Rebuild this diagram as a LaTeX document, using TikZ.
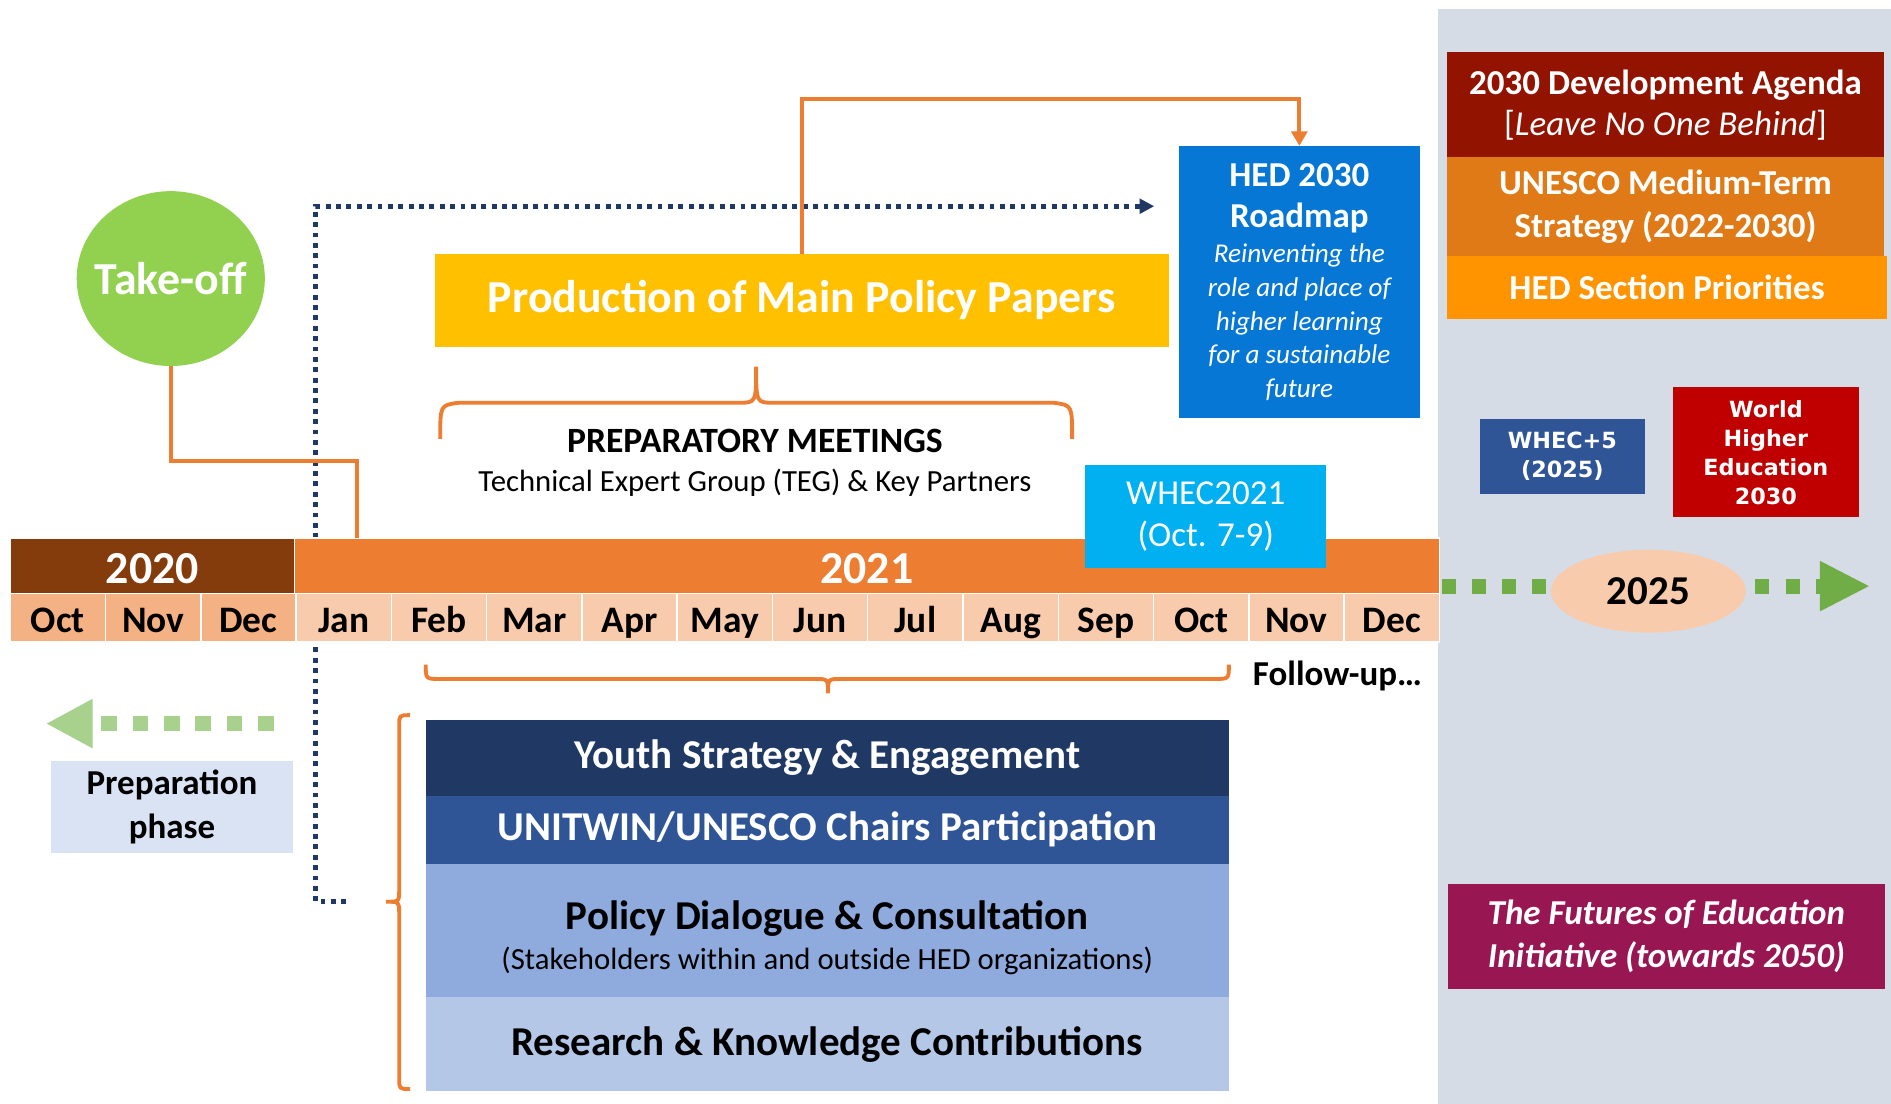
\documentclass[tikz,border=0pt]{standalone}
\usepackage{fontspec}
\setmainfont{Carlito}
\newfontfamily\heavyfont{DejaVu Sans}
\usepackage{tikz}
\usetikzlibrary{positioning}
\usetikzlibrary{shapes.geometric}
\usetikzlibrary{arrows.meta}

\definecolor{takegreen}{HTML}{92D050}
\definecolor{lineorange}{HTML}{ED7D31}
\definecolor{year20}{HTML}{843C0C}
\definecolor{year21}{HTML}{ED7D31}
\definecolor{month20}{HTML}{F4B183}
\definecolor{month21}{HTML}{F8CBAD}
\definecolor{papergold}{HTML}{FFC000}
\definecolor{roadblue}{HTML}{0677D5}
\definecolor{whecblue}{HTML}{00B0F0}
\definecolor{navy}{HTML}{203864}
\definecolor{chairblue}{HTML}{2F5597}
\definecolor{dialogblue}{HTML}{8FAADC}
\definecolor{researchblue}{HTML}{B4C7E7}
\definecolor{prepblue}{HTML}{DAE3F3}
\definecolor{panelgray}{HTML}{D6DCE5}
\definecolor{agendared}{HTML}{921300}
\definecolor{mtsorange}{HTML}{E07A16}
\definecolor{prioorange}{HTML}{FF9300}
\definecolor{whered}{HTML}{C00000}
\definecolor{futurepurple}{HTML}{981651}
\definecolor{lightgreen}{HTML}{A9D18E}
\definecolor{darkgreen}{HTML}{70AD47}

\newcommand{\fsz}[2]{\fontsize{#1}{#2}\selectfont}

\begin{document}
\begin{tikzpicture}[x=1pt, y=-1pt,
    box/.style={rectangle, inner sep=0pt, outer sep=0pt, anchor=north west, align=flush center},
    month/.style={box, draw=white, line width=1.2pt, minimum width=79, minimum height=40, text height=24pt, text depth=0pt, font=\fsz{31}{36}\bfseries},
    year/.style={box, draw=white, line width=1.2pt, minimum height=46.3, text height=30pt, text depth=0pt, text=white, font=\fsz{38}{44}\bfseries},
    oline/.style={draw=lineorange, line width=3.2pt},
    navydot/.style={draw=navy, line width=4pt, dash pattern=on 4pt off 4.6pt},
    gdots/.style={line width=12.5pt, dash pattern=on 11.5pt off 13.3pt}]

    \fill[white] (0,0) rectangle (1568,915);
    \useasboundingbox (0,0) rectangle (1568,915);

    % Right panel
    \node at (1192.5,7.5) (panel) [box, fill=panelgray, minimum width=376, minimum height=908] {};

    % Nodes
    \node at (141.6,231) (takeoff) [ellipse, fill=takegreen, inner sep=0pt, minimum width=156, minimum height=145,
        label={[text=white, font=\fsz{38}{44}\bfseries]center:Take-off}] {};
    \node at (360.7,210.3) (papers) [box, fill=papergold, minimum width=608.3, minimum height=77.7, text=white, font=\fsz{38}{44}\bfseries] {Production of Main Policy Papers};
    \node at (977.4,121) (roadmap) [box, fill=roadblue, minimum width=200, minimum height=226, text width=200, text=white, font=\fsz{22.5}{28}\itshape]
        {{\fsz{29}{34}\bfseries\upshape HED 2030\\Roadmap\par}\vspace{1pt}Reinventing the\\role and place of\\higher learning\\for a sustainable\\future};
    \node at (626,366) (prepmeet) [font=\fsz{29.5}{35}\bfseries] {PREPARATORY MEETINGS};
    \node at (626,400.5) (teg) [font=\fsz{25.5}{30}] {Technical Expert Group (TEG) \& Key Partners};

    % Dotted line to the roadmap (behind the timeline)
    \coordinate (navystart) at (287,747.5);
    \coordinate (navytip) at (957,171);
    \draw[navydot, -{Triangle[length=12pt, width=12pt]}] (navystart) -| (261.5,171) -- (navytip);

    % Timeline
    \node at (8.5,446) (y2020) [year, fill=year20, minimum width=235.8] {2020};
    \node at (244.3,446) (y2021) [year, fill=year21, minimum width=949.1] {2021};
    \foreach \m [count=\i from 0] in {Oct,Nov,Dec,Jan,Feb,Mar,Apr,May,Jun,Jul,Aug,Sep,Oct,Nov,Dec} {
        \ifnum\i<3 \def\mfill{month20}\else\def\mfill{month21}\fi
        \node at ({8.5+79*\i},492.3) (m\i) [month, fill=\mfill] {\m};
    }
    \node at (900,385.6) (whec21) [box, fill=whecblue, minimum width=199.5, minimum height=85, text=white, font=\fsz{29}{35}] {WHEC2021\\(Oct. 7-9)};
    \node at (1109,560.9) (followup) [font=\fsz{29}{34}\bfseries] {Follow-up\ldots};

    % Activities
    \node at (353,597) (youth) [box, fill=navy, minimum width=666, minimum height=62.7, text=white, font=\fsz{34}{40}\bfseries] {Youth Strategy \& Engagement};
    \node at (353,659.7) (chairs) [box, fill=chairblue, minimum width=666, minimum height=56.3, text=white, font=\fsz{34}{40}\bfseries] {UNITWIN/UNESCO Chairs Participation};
    \node at (353,716) (dialog) [box, fill=dialogblue, minimum width=666, minimum height=110.5, text width=666, font=\fsz{25.5}{33}]
        {{\fsz{34}{38}\bfseries\rule{0pt}{37pt}Policy Dialogue \& Consultation\par}(Stakeholders within and outside HED organizations)};
    \node at (353,826.5) (research) [box, fill=researchblue, minimum width=666, minimum height=78.5, font=\fsz{34}{40}\bfseries] {Research \& Knowledge Contributions};
    \node at (42.3,631) (prep) [box, fill=prepblue, minimum width=200.7, minimum height=76, font=\fsz{29}{37}\bfseries] {Preparation\\phase};

    % Right side
    \node at (1200,43.5) (agenda) [box, fill=agendared, minimum width=362, minimum height=86.8, text=white, font=\fsz{29}{34}]
        {\textbf{2030 Development Agenda}\\{[}\textit{Leave No One Behind}{]}};
    \node at (1200,130.3) (mts) [box, fill=mtsorange, minimum width=362, minimum height=82.1, text=white, font=\fsz{29}{35}\bfseries] {UNESCO Medium-Term\\Strategy (2022-2030)};
    \node at (1200,212.4) (prio) [box, fill=prioorange, minimum width=364.7, minimum height=52.1, text=white, font=\fsz{29}{34}\bfseries] {HED Section Priorities};
    \node at (1227,347.3) (whec5) [box, fill=chairblue, minimum width=137, minimum height=62.7, text=white, font=\heavyfont\bfseries\fsz{18.5}{24}] {WHEC+5\\(2025)};
    \node at (1387,321.3) (whe2030) [box, fill=whered, minimum width=154.5, minimum height=107.7, text=white, font=\heavyfont\bfseries\fsz{18.5}{24}] {World\\Higher\\Education\\2030};
    \node at (1200.7,733) (futures) [box, fill=futurepurple, minimum width=362.2, minimum height=86.7, text=white, font=\fsz{29}{35}\bfseries\itshape] {The Futures of Education\\Initiative (towards 2050)};
    \node at (1366.8,490.2) (y2025) [ellipse, fill=month21, inner sep=0pt, minimum width=161.6, minimum height=68.6, font=\fsz{34}{40}\bfseries] {2025};

    % Arrows
    \draw[oline] (takeoff.south) |- (296,382) -- (296,446);
    \draw[oline, -{Triangle[length=12pt, width=13pt]}] (papers.north) -- ++(0,-128) -| (roadmap.north);

    \coordinate (gstart) at (1196,486);
    \coordinate (gresume) at (1455,486);
    \coordinate (gtip) at (1550.7,486);
    \draw[gdots, draw=darkgreen] (gstart) -- (y2025.west |- gstart);
    \draw[gdots, draw=darkgreen, dash pattern=on 12pt off 13.6pt, -{Triangle[length=41.7pt, width=38.6pt]}] (gresume) -- (gtip);

    \coordinate (lstart) at (227,600);
    \coordinate (ltip) at (38,600);
    \draw[gdots, draw=lightgreen, line width=13pt, dash pattern=on 13pt off 13pt, -{Triangle[length=38.7pt, width=38pt]}] (lstart) -- (ltip);

    % Braces
    \draw[oline] (365,364) .. controls (365,336) .. (380,334) -- (612,334) .. controls (627,334) .. (627,304)
        .. controls (627,334) .. (642,334) -- (874,334) .. controls (889,336) .. (889,364);
    \draw[oline] (353,551) .. controls (353,563) .. (365,563) -- (676,563) .. controls (686.6,563) .. (686.6,575)
        .. controls (686.6,563) .. (697,563) -- (1007,563) .. controls (1019,563) .. (1019,551);
    \draw[oline] (340,593) .. controls (331,593) .. (331,602) -- (331,738) .. controls (331,747.7) .. (320,747.7)
        .. controls (331,747.7) .. (331,757) -- (331,894) .. controls (331,903) .. (340,903);
\end{tikzpicture}
\end{document}
